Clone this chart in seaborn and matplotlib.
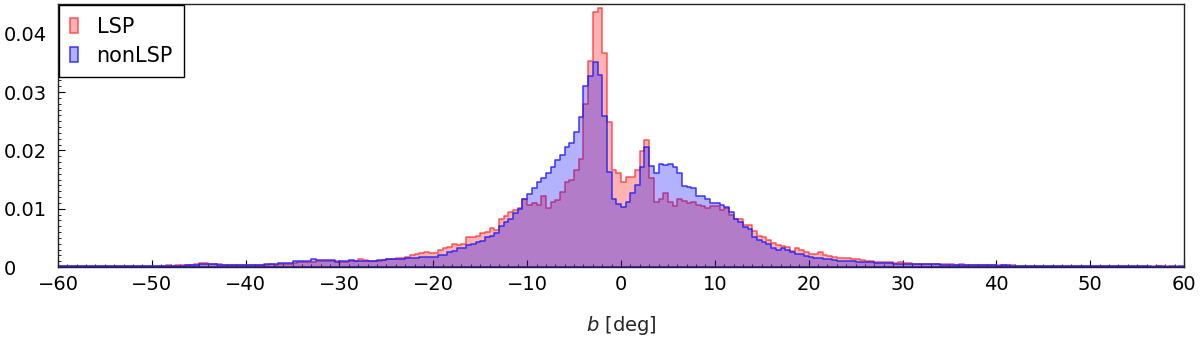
import numpy as np
import pandas as pd
import matplotlib
matplotlib.use("Agg")
import matplotlib.pyplot as plt
from matplotlib.ticker import MultipleLocator, FuncFormatter
import seaborn as sns

# bins of 0.5 deg from -60 to 60, heights (in units of 1e-3)
bin_width = 0.5
b_left = np.arange(-60, 60, bin_width)

lsp = [
    0.15, 0.2, 0.15, 0.15, 0.1, 0.15, 0.15, 0.1, 0.15, 0.1,      # -60
    0.1, 0.15, 0.1, 0.15, 0.1, 0.15, 0.1, 0.15, 0.2, 0.15,       # -55
    0.2, 0.25, 0.2, 0.3, 0.25, 0.3, 0.35, 0.3, 0.4, 0.45,        # -50
    0.7, 0.75, 0.55, 0.5, 0.45, 0.4, 0.4, 0.35, 0.4, 0.3,        # -45
    0.3, 0.35, 0.3, 0.4, 0.35, 0.45, 0.4, 0.45, 0.5, 0.45,       # -40
    0.75, 0.8, 0.9, 0.85, 0.9, 1.0, 0.95, 1.0, 1.1, 1.0,         # -35
    0.85, 0.9, 1.05, 1.0, 1.3, 1.2, 1.05, 1.1, 1.1, 1.15,        # -30
    1.3, 1.3, 1.5, 1.5, 1.8, 2.0, 2.2, 2.4, 2.5, 2.4,            # -25
    2.4, 2.9, 3.2, 3.5, 3.9, 3.8, 4.0, 5.2, 5.2, 5.4,            # -20
    5.9, 6.0, 6.7, 6.3, 8.2, 8.7, 9.5, 9.8, 10.1, 11.6,          # -15
    10.6, 10.9, 10.6, 12.1, 10.2, 11.2, 11.5, 12.9, 14.5, 14.9,  # -10
    16.6, 18.6, 28.0, 35.4, 43.8, 44.5, 36.7, 24.9, 16.7, 16.2,  # -5
    14.6, 15.4, 15.4, 16.6, 19.9, 21.8, 15.2, 11.2, 11.7, 12.7,  # 0
    11.1, 10.5, 11.6, 11.4, 11.0, 11.2, 10.6, 10.5, 10.2, 10.5,  # 5
    10.4, 9.8, 10.1, 8.9, 8.3, 8.2, 7.2, 7.2, 6.1, 5.3,          # 10
    5.2, 4.7, 4.2, 3.8, 3.6, 3.5, 2.8, 3.2, 3.0, 2.5,            # 15
    2.2, 2.2, 2.6, 2.0, 1.9, 1.7, 1.6, 1.6, 1.5, 1.3,            # 20
    1.3, 1.2, 1.1, 1.0, 0.9, 0.9, 0.85, 0.8, 0.75, 0.8,          # 25
    0.7, 0.65, 0.6, 0.55, 0.6, 0.5, 0.55, 0.5, 0.45, 0.5,        # 30
    0.45, 0.4, 0.45, 0.4, 0.35, 0.4, 0.35, 0.3, 0.35, 0.3,       # 35
    0.3, 0.3, 0.25, 0.3, 0.25, 0.2, 0.25, 0.2, 0.2, 0.25,        # 40
    0.2, 0.2, 0.15, 0.2, 0.15, 0.15, 0.2, 0.15, 0.1, 0.15,       # 45
    0.15, 0.1, 0.15, 0.1, 0.1, 0.15, 0.1, 0.1, 0.1, 0.1,         # 50
    0.1, 0.1, 0.05, 0.1, 0.1, 0.05, 0.1, 0.05, 0.1, 0.05,        # 55
]

nonlsp = [
    0.15, 0.1, 0.1, 0.1, 0.1, 0.1, 0.1, 0.1, 0.1, 0.1,           # -60
    0.1, 0.1, 0.1, 0.1, 0.1, 0.1, 0.1, 0.1, 0.15, 0.15,          # -55
    0.15, 0.2, 0.2, 0.2, 0.2, 0.2, 0.25, 0.3, 0.3, 0.35,         # -50
    0.55, 0.6, 0.5, 0.45, 0.4, 0.4, 0.35, 0.35, 0.3, 0.3,        # -45
    0.3, 0.3, 0.35, 0.4, 0.45, 0.5, 0.6, 0.65, 0.65, 0.7,        # -40
    0.95, 1.0, 1.0, 1.0, 1.3, 1.25, 1.2, 1.25, 1.2, 0.9,         # -35
    0.95, 1.0, 1.15, 1.1, 1.1, 1.05, 1.1, 1.1, 1.2, 1.25,        # -30
    1.3, 1.3, 1.35, 1.4, 1.5, 1.5, 1.6, 1.75, 1.8, 1.8,          # -25
    1.8, 2.1, 2.1, 2.6, 2.7, 3.2, 3.3, 3.8, 3.9, 4.3,            # -20
    4.4, 5.1, 5.3, 5.9, 7.0, 7.8, 8.2, 9.3, 10.0, 11.7,          # -15
    12.6, 13.5, 14.6, 15.2, 16.2, 17.2, 18.4, 19.2, 20.6, 21.3,  # -10
    23.2, 25.8, 31.0, 32.8, 35.1, 32.9, 25.9, 16.3, 11.6, 10.8,  # -5
    10.3, 11.2, 12.7, 14.1, 17.2, 20.6, 17.3, 16.2, 17.6, 17.5,  # 0
    17.6, 17.2, 16.2, 13.9, 13.7, 13.5, 12.2, 12.2, 11.6, 10.9,  # 5
    10.9, 10.6, 10.3, 9.5, 8.3, 7.8, 6.9, 6.6, 5.2, 4.6,         # 10
    4.3, 3.9, 3.2, 3.0, 3.2, 3.0, 2.5, 2.3, 2.2, 1.9,            # 15
    1.7, 1.5, 1.5, 1.4, 1.3, 1.2, 1.1, 1.1, 1.0, 0.95,           # 20
    0.9, 0.85, 0.85, 0.8, 0.75, 0.7, 0.7, 0.65, 0.6, 0.6,        # 25
    0.55, 0.55, 0.5, 0.5, 0.5, 0.45, 0.45, 0.45, 0.4, 0.4,       # 30
    0.4, 0.35, 0.4, 0.35, 0.35, 0.3, 0.3, 0.35, 0.3, 0.3,        # 35
    0.25, 0.3, 0.3, 0.25, 0.25, 0.2, 0.25, 0.2, 0.2, 0.2,        # 40
    0.2, 0.15, 0.2, 0.15, 0.15, 0.15, 0.15, 0.1, 0.15, 0.1,      # 45
    0.1, 0.1, 0.15, 0.1, 0.1, 0.1, 0.1, 0.1, 0.1, 0.1,           # 50
    0.1, 0.1, 0.1, 0.05, 0.1, 0.1, 0.05, 0.1, 0.05, 0.1,         # 55
]

centers = b_left + bin_width / 2

sns.set_style("ticks")
plt.rcParams["font.family"] = ["DejaVu Sans"]
plt.rcParams["mathtext.fontset"] = "dejavusans"
plt.rcParams["text.color"] = "black"
plt.rcParams["xtick.color"] = "black"
plt.rcParams["ytick.color"] = "black"

fig = plt.figure(figsize=(12, 3.38), dpi=100)
ax = fig.add_axes([0.0483, 0.21, 0.9384, 0.778])

# red first, blue on top -> purple overlap like the original
sns.histplot(x=centers, weights=np.array(lsp) * 1e-3,
             binwidth=bin_width, binrange=(-60, 60),
             element="step", fill=True, color="red", alpha=0.3,
             edgecolor=(1, 0.15, 0.15, 0.75), linewidth=1.1, label="LSP", ax=ax)
sns.histplot(x=centers, weights=np.array(nonlsp) * 1e-3,
             binwidth=bin_width, binrange=(-60, 60),
             element="step", fill=True, color="blue", alpha=0.3,
             edgecolor=(0.1, 0.1, 1, 0.85), linewidth=1.1, label="nonLSP", ax=ax)

ax.set_xlim(-60, 60)
ax.set_ylim(0, 0.0451)
ax.xaxis.set_major_locator(MultipleLocator(10))
ax.xaxis.set_minor_locator(MultipleLocator(1))
ax.yaxis.set_major_locator(MultipleLocator(0.01))
ax.yaxis.set_minor_locator(MultipleLocator(0.001))
ax.yaxis.set_major_formatter(FuncFormatter(lambda v, p: "0" if abs(v) < 1e-9 else f"{v:.2f}"))
ax.xaxis.set_major_formatter(FuncFormatter(lambda v, p: f"{v:.0f}".replace("-", "\u2212")))
ax.tick_params(which="both", direction="in", labelsize=14)
ax.tick_params(which="major", length=5)
ax.tick_params(which="minor", length=2.5)
ax.tick_params(axis="y", pad=39)
ax.tick_params(axis="x", pad=6)
for lab in ax.get_yticklabels():
    lab.set_horizontalalignment("left")
ax.set_xlabel(r"$b$ [deg]", fontsize=14, labelpad=14)
ax.set_ylabel("")
for s in ax.spines.values():
    s.set_color("#222222")
    s.set_linewidth(1)

ax.legend(loc="upper left", frameon=True, fancybox=False, edgecolor="black",
          framealpha=1, fontsize=15, handlelength=0.35, handleheight=0.7,
          handletextpad=0.9, borderaxespad=0.05, borderpad=0.55, labelspacing=0.45)

fig.savefig("out.png", dpi=100)
